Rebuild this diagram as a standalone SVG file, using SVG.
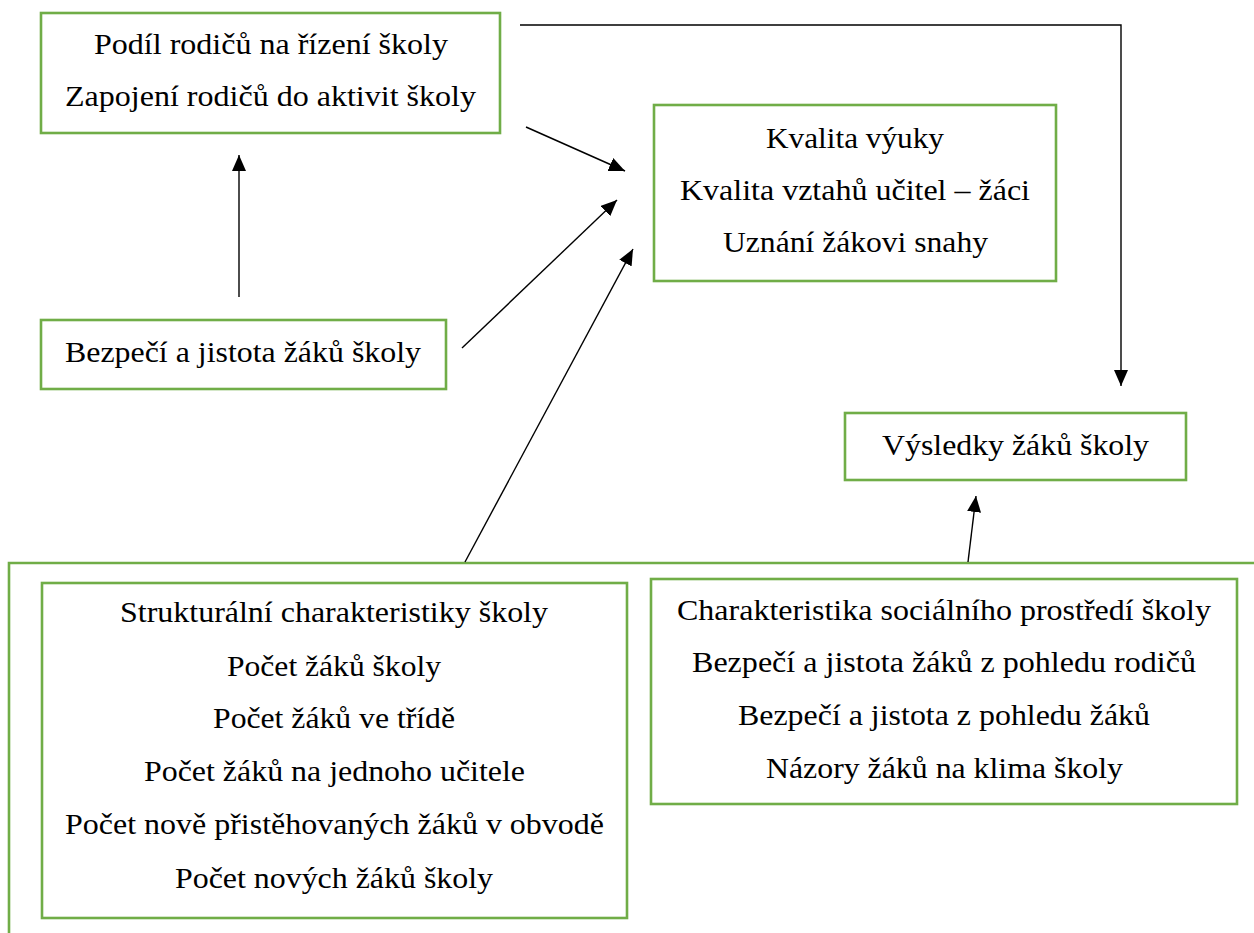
<svg xmlns="http://www.w3.org/2000/svg" width="1254" height="933" viewBox="0 0 1254 933">
<defs>
<marker id="ah" markerUnits="userSpaceOnUse" markerWidth="16" markerHeight="14" refX="16" refY="7" orient="auto">
<path d="M0,0 L16,7 L0,14 z" fill="#000"/>
</marker>
<style>
.box{fill:#fff;stroke:#70AD47;stroke-width:2.6}
.c{fill:none;stroke:#000;stroke-width:1.4;marker-end:url(#ah)}
text{lengthAdjust:spacingAndGlyphs}
</style>
</defs>
<rect width="1254" height="933" fill="#fff"/>
<g id="outer">
<path d="M9,935 L9,563 L1256,563" fill="none" stroke="#70AD47" stroke-width="2.6"/>
</g>
<g font-family="Liberation Serif, 'Times New Roman', serif" font-size="30" text-anchor="middle" fill="#000">
<g id="rodice">
<rect class="box" x="41" y="13" width="459" height="120"/>
<text x="271" y="54" textLength="354" lengthAdjust="spacingAndGlyphs">Podíl rodičů na řízení školy</text>
<text x="270.5" y="106" textLength="411" lengthAdjust="spacingAndGlyphs">Zapojení rodičů do aktivit školy</text>
</g>
<g id="kvalita">
<rect class="box" x="654" y="105" width="402" height="176"/>
<text x="855" y="148" textLength="178" lengthAdjust="spacingAndGlyphs">Kvalita výuky</text>
<text x="855" y="200" textLength="350" lengthAdjust="spacingAndGlyphs">Kvalita vztahů učitel – žáci</text>
<text x="855.5" y="252" textLength="265" lengthAdjust="spacingAndGlyphs">Uznání žákovi snahy</text>
</g>
<g id="bezpeci">
<rect class="box" x="41" y="320" width="405" height="69"/>
<text x="243" y="362" textLength="356" lengthAdjust="spacingAndGlyphs">Bezpečí a jistota žáků školy</text>
</g>
<g id="vysledky">
<rect class="box" x="845" y="413" width="341" height="67"/>
<text x="1015.5" y="455" textLength="267" lengthAdjust="spacingAndGlyphs">Výsledky žáků školy</text>
</g>
<g id="strukturalni">
<rect class="box" x="42" y="583" width="585" height="335"/>
<text x="334" y="622" textLength="428" lengthAdjust="spacingAndGlyphs">Strukturální charakteristiky školy</text>
<text x="334" y="676" textLength="214" lengthAdjust="spacingAndGlyphs">Počet žáků školy</text>
<text x="334" y="728" textLength="242" lengthAdjust="spacingAndGlyphs">Počet žáků ve třídě</text>
<text x="334.5" y="781" textLength="381" lengthAdjust="spacingAndGlyphs">Počet žáků na jednoho učitele</text>
<text x="334.5" y="834" textLength="539" lengthAdjust="spacingAndGlyphs">Počet nově přistěhovaných žáků v obvodě</text>
<text x="334" y="888" textLength="318" lengthAdjust="spacingAndGlyphs">Počet nových žáků školy</text>
</g>
<g id="socialni">
<rect class="box" x="651" y="579" width="586" height="225"/>
<text x="944" y="620" textLength="534" lengthAdjust="spacingAndGlyphs">Charakteristika sociálního prostředí školy</text>
<text x="944" y="672" textLength="504" lengthAdjust="spacingAndGlyphs">Bezpečí a jistota žáků z pohledu rodičů</text>
<text x="944" y="725" textLength="412" lengthAdjust="spacingAndGlyphs">Bezpečí a jistota z pohledu žáků</text>
<text x="944.5" y="778" textLength="357" lengthAdjust="spacingAndGlyphs">Názory žáků na klima školy</text>
</g>
</g>
<g id="connectors">
<polyline class="c" points="520,25 1121,25 1121,386"/>
<line class="c" x1="239" y1="297" x2="239" y2="155"/>
<line class="c" x1="526" y1="127" x2="625" y2="171"/>
<line class="c" x1="462" y1="348" x2="617" y2="200"/>
<line class="c" x1="465" y1="562" x2="633" y2="249"/>
<line class="c" x1="968" y1="562" x2="976" y2="496"/>
</g>
</svg>
